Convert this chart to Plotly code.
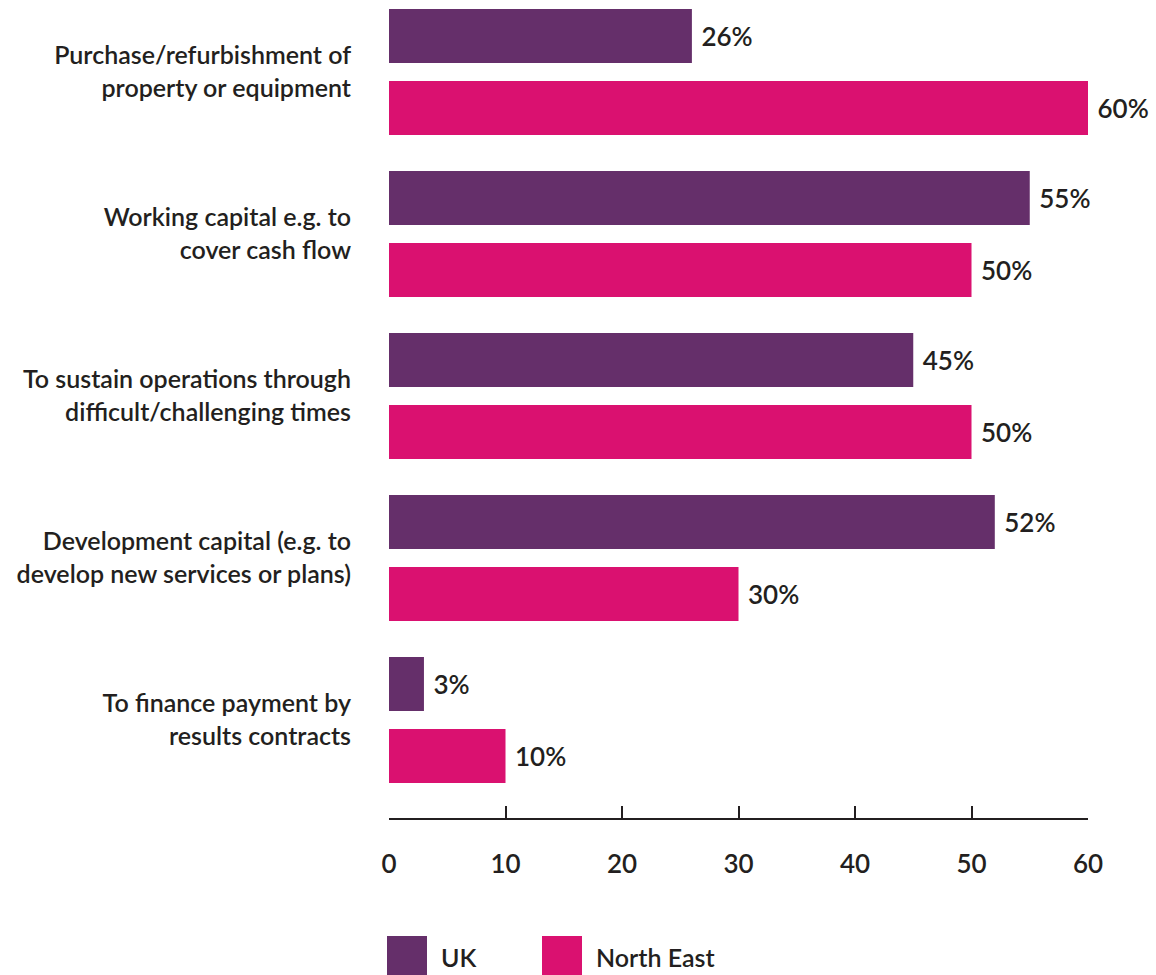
import plotly.graph_objects as go

# Reasons for seeking finance, UK vs North East (% of respondents)
categories = [
    "Purchase/refurbishment of<br>property or equipment",
    "Working capital e.g. to<br>cover cash flow",
    "To sustain operations through<br>difficult/challenging times",
    "Development capital (e.g. to<br>develop new services or plans)",
    "To finance payment by<br>results contracts",
]
uk_values = [26, 55, 45, 52, 3]
north_east_values = [60, 50, 50, 30, 10]
x_ticks = [0, 10, 20, 30, 40, 50, 60]

UK_COLOR = "#652F6A"
NE_COLOR = "#DA1170"
TEXT_COLOR = "#231F20"
FONT = "Lato"

positions = list(range(len(categories)))
label_font = dict(size=26, color=TEXT_COLOR, family=FONT, weight=600)

fig = go.Figure()
fig.add_trace(go.Bar(
    name="UK", y=positions, x=uk_values, orientation="h",
    marker=dict(color=UK_COLOR, line=dict(width=0)),
    text=[f"\u00a0{v}%" for v in uk_values], textposition="outside",
    textfont=label_font, cliponaxis=False,
))
fig.add_trace(go.Bar(
    name="North East", y=positions, x=north_east_values, orientation="h",
    marker=dict(color=NE_COLOR, line=dict(width=0)),
    text=[f"\u00a0{v}%" for v in north_east_values], textposition="outside",
    textfont=label_font, cliponaxis=False,
))

fig.update_layout(
    width=1156, height=975,
    margin=dict(l=389, r=68, t=0, b=157),
    paper_bgcolor="white", plot_bgcolor="white",
    barmode="group", bargap=0.111, bargroupgap=0.25,
    showlegend=False,
    font=dict(family=FONT, color=TEXT_COLOR, size=24, weight=600),
)
fig.update_xaxes(
    range=[0, 60], tickvals=x_ticks, ticktext=[str(t) for t in x_ticks],
    showgrid=False, zeroline=False,
    showline=True, linecolor=TEXT_COLOR, linewidth=2,
    ticks="inside", ticklen=12, tickwidth=2, tickcolor=TEXT_COLOR,
    tickfont=dict(size=26, family=FONT, color=TEXT_COLOR, weight=600),
    ticklabelstandoff=22,
)
fig.update_yaxes(
    range=[4.605, -0.444], tickvals=positions, ticktext=categories,
    showgrid=False, zeroline=False, showline=False, ticks="",
    tickfont=dict(size=25, family=FONT, color=TEXT_COLOR, weight=600),
    ticklabelstandoff=37,
)

# Legend drawn as swatches with labels below the axis
legend_items = [("UK", UK_COLOR, 387), ("North East", NE_COLOR, 542)]
for label, color, x0 in legend_items:
    fig.add_shape(
        type="rect", xref="paper", yref="paper",
        x0=(x0 - 389) / 699, x1=(x0 + 40 - 389) / 699,
        y0=(818 - 976) / 818, y1=(818 - 936) / 818,
        fillcolor=color, line=dict(width=0), layer="above",
    )
    fig.add_annotation(
        text=label, xref="paper", yref="paper",
        x=(x0 + 52 - 389) / 699, y=(818 - 957) / 818,
        xanchor="left", yanchor="middle", showarrow=False,
        font=dict(size=25, family=FONT, color=TEXT_COLOR, weight=600),
    )

fig.write_html("out.html")
